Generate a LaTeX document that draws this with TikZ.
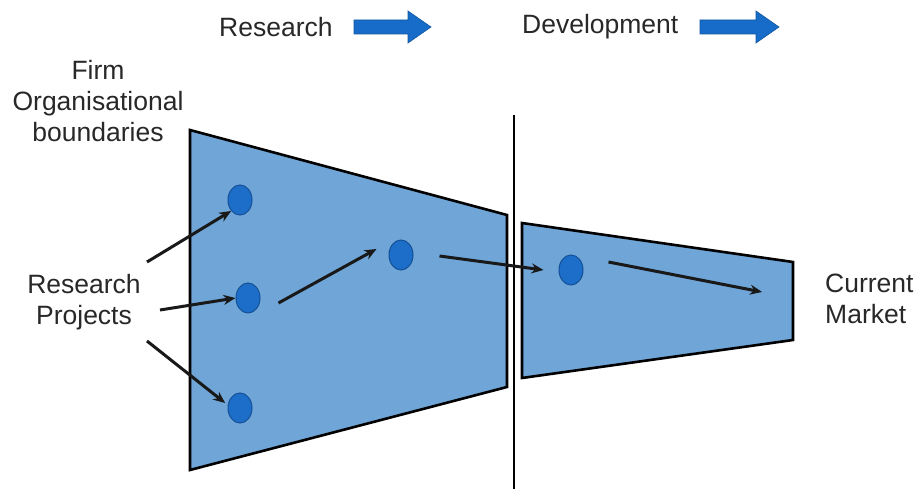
\documentclass[tikz,border=0pt]{standalone}
\usepackage{fontspec}
\setmainfont{Liberation Sans}
\usetikzlibrary{arrows.meta,shapes.geometric}
\definecolor{panel}{RGB}{111,165,215}
\definecolor{dotblue}{RGB}{28,110,200}
\definecolor{dotedge}{RGB}{20,80,150}
\definecolor{bigarrow}{RGB}{22,108,200}
\definecolor{txt}{RGB}{40,40,40}
\tikzset{
  panelshape/.style={fill=panel,draw=black,line width=2.6pt,line join=miter},
  project/.style={ellipse,fill=dotblue,draw=dotedge,line width=1pt,minimum width=24pt,minimum height=30pt,inner sep=0pt},
  flow/.style={line width=3pt,draw=black!90,-{Stealth[length=12pt,width=10pt]}},
  label/.style={text=txt,font=\fontsize{26.5}{31}\selectfont,inner sep=0pt,align=center},
  phasearrow/.style={fill=bigarrow,draw=bigarrow!80!black,line width=0.6pt}
}
\begin{document}
\begin{tikzpicture}[x=1pt,y=-1pt]
\useasboundingbox (0,0) rectangle (918,489);
% panels
\draw[panelshape] (190,130) -- (507,215) -- (507,387) -- (190,470) -- cycle;
\draw[panelshape] (522,223) -- (793,262) -- (793,340) -- (522,378) -- cycle;
% divider
\draw[line width=2.4pt] (514,115) -- (514,489);
% top labels and arrows
\node[label,anchor=west] (res) at (219,27) {Research};
\draw[phasearrow] (354,20) -- (408,20) -- (408,11) -- (431,27) -- (408,43) -- (408,34) -- (354,34) -- cycle;
\node[label,anchor=west] (dev) at (522,27) {Development};
\draw[phasearrow] (700,20) -- (756,20) -- (756,11) -- (779,27) -- (756,43) -- (756,34) -- (700,34) -- cycle;
% side labels
\node[label] (firm) at (98,101) {Firm\\Organisational\\boundaries};
\node[label] (rp) at (84,302) {Research\\Projects};
\node[label,align=left,anchor=west] (cm) at (825,299) {Current\\Market};
% projects
\node[project] (p1) at (240,200) {};
\node[project] (p2) at (248,298) {};
\node[project] (p3) at (240,408) {};
\node[project] (p4) at (401,255) {};
\node[project] (p5) at (571,270) {};
% free ends
\coordinate (s1) at (147,262);
\coordinate (s2) at (160,310);
\coordinate (s3) at (147,341);
\coordinate (mk) at (762,292);
% connectors
\draw[flow] (s1) -- (p1.south west);
\draw[flow] (s2) -- (p2.west);
\draw[flow] (s3) -- ([xshift=-6pt,yshift=-6pt]p3.north west);
\draw[flow] ([xshift=18pt,yshift=-5pt]p2.east) -- ([xshift=-12pt,yshift=6pt]p4.west);
\draw[flow] ([xshift=26pt,yshift=-1pt]p4.east) -- ([xshift=-15pt]p5.west);
\draw[flow] ([xshift=25pt,yshift=8pt]p5.east) -- (mk);
\end{tikzpicture}
\end{document}
